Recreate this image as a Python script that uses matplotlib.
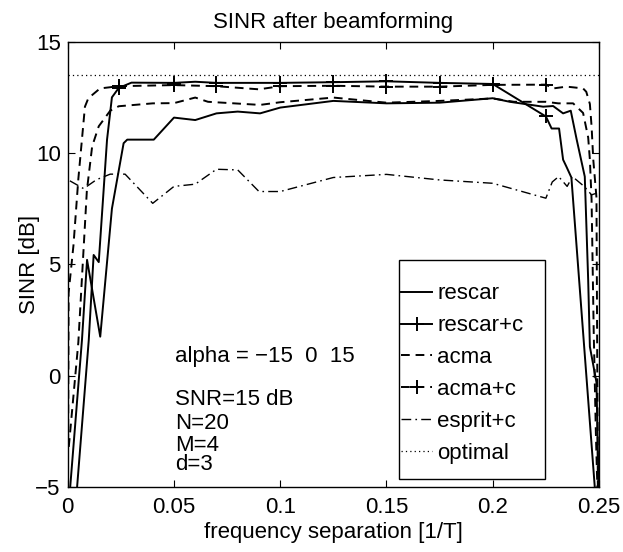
import numpy as np
import matplotlib
matplotlib.use("Agg")
import matplotlib.pyplot as plt
from matplotlib.legend_handler import HandlerLine2D
from matplotlib.patches import Rectangle

plt.rcParams['font.family'] = ['Liberation Sans', 'DejaVu Sans']

# ---------------- data ----------------
opt_x = [0.0, 0.25]
opt_y = [13.5, 13.5]

rescar_x = [0.0005, 0.0067, 0.0091, 0.0153, 0.0208, 0.0263, 0.028, 0.0405, 0.05, 0.06, 0.07, 0.08,
            0.0905, 0.1, 0.125, 0.15, 0.175, 0.2, 0.208, 0.2237, 0.2284, 0.2331, 0.2367, 0.2395,
            0.2433, 0.2449, 0.2457, 0.2488, 0.2500]
rescar_y = [-5.8, 1.6, 5.2, 1.75, 7.5, 10.44, 10.6, 10.6, 11.59, 11.48, 11.78, 11.86,
            11.78, 12.04, 12.34, 12.23, 12.26, 12.46, 12.3, 12.08, 12.11, 11.78, 11.9, 10.6,
            8.94, 4.3, 1.3, -0.3, -6.0]

rescarc_x = [0.0025, 0.0099, 0.0122, 0.0146, 0.0169, 0.0185, 0.0208, 0.024, 0.030, 0.05, 0.06,
             0.07, 0.1, 0.125, 0.15, 0.175, 0.2, 0.225, 0.2277, 0.2312, 0.2331, 0.2346, 0.237,
             0.248, 0.2495]
rescarc_y = [-7.3, 1.6, 5.42, 5.1, 8.34, 10.6, 12.5, 12.92, 13.16, 13.15, 13.2,
             13.15, 13.15, 13.18, 13.22, 13.15, 13.1, 11.64, 11.1, 11.1, 9.7, 9.4, 8.9,
             -5.0, -7.0]

acma_x = [0.0005, 0.005, 0.009, 0.0115, 0.0146, 0.02, 0.024, 0.04, 0.05, 0.06, 0.066, 0.0905,
          0.1, 0.125, 0.15, 0.175, 0.2, 0.21, 0.225, 0.2308, 0.2378, 0.2425, 0.2449, 0.2457,
          0.2465, 0.2475, 0.2485, 0.2495]
acma_y = [-3.2, 1.5, 8.3, 10.3, 11.2, 11.9, 12.1, 12.23, 12.24, 12.49, 12.3, 12.16,
          12.28, 12.49, 12.26, 12.34, 12.45, 12.3, 12.3, 12.23, 12.23, 11.8, 10.7, 9.7,
          7.9, 2.0, -2.5, -6.0]

acmac_x = [0.0002, 0.0004, 0.0027, 0.005, 0.0081, 0.0097, 0.0152, 0.024, 0.05, 0.07, 0.09, 0.1,
           0.125, 0.15, 0.175, 0.2, 0.225, 0.2284, 0.2347, 0.2378, 0.2425, 0.244, 0.2457,
           0.2465, 0.2473, 0.2488, 0.2495]
acmac_y = [-3.0, 3.7, 5.85, 8.84, 12.08, 12.46, 12.9, 13.0, 13.05, 13.0, 12.86, 13.0,
           13.02, 12.98, 12.98, 13.06, 13.07, 12.9, 12.98, 12.95, 12.9, 12.75, 12.2,
           11.2, 9.7, 8.0, -6.0]

esprit_x = [0.001, 0.0075, 0.0135, 0.02, 0.027, 0.04, 0.05, 0.06, 0.07, 0.08, 0.09, 0.1,
            0.125, 0.15, 0.175, 0.2, 0.225, 0.228, 0.231, 0.235, 0.2375, 0.243, 0.2465, 0.249]
esprit_y = [8.75, 8.4, 8.8, 9.05, 9.05, 7.74, 8.5, 8.6, 9.27, 9.24, 8.27, 8.27,
            8.9, 9.04, 8.79, 8.64, 7.97, 8.7, 8.94, 8.5, 8.94, 8.5, 8.12, 8.2]

marker_freqs = [0.024, 0.05, 0.07, 0.1, 0.125, 0.15, 0.175, 0.2, 0.225]

labels = ['rescar', 'rescar+c', 'acma', 'acma+c', 'esprit+c', 'optimal']
xticks = [0, 0.05, 0.1, 0.15, 0.2, 0.25]
xticklabels = ['0', '0.05', '0.1', '0.15', '0.2', '0.25']
yticks = [-5, 0, 5, 10, 15]
yticklabels = ['\u22125', '0', '5', '10', '15']
notes = ['alpha = \u221215  0  15', 'SNR=15 dB', 'N=20', 'M=4', 'd=3']
note_y = [0.85, -1.05, -2.15, -3.12, -4.0]


def mark_idx(xs, fs):
    return [int(np.argmin(np.abs(np.asarray(xs) - f))) for f in fs]


class LeftMarkerHandler(HandlerLine2D):
    def get_xdata(self, legend, xdescent, ydescent, width, height, fontsize):
        xdata = [-xdescent, -xdescent + width]
        xdata_marker = [-xdescent + 0.12 * width]
        return xdata, xdata_marker


# ---------------- figure ----------------
fig = plt.figure(figsize=(6.23, 5.52), dpi=100)
ax = fig.add_axes([0.1087, 0.1178, 0.8528, 0.8067])

lw = 1.4
fs = 16
l1, = ax.plot(rescar_x, rescar_y, color='k', lw=lw, ls='-')
l2, = ax.plot(rescarc_x, rescarc_y, color='k', lw=lw, ls='-', marker='+', ms=10, mew=1.4,
              markevery=mark_idx(rescarc_x, marker_freqs))
l3, = ax.plot(acma_x, acma_y, color='k', lw=lw, dashes=(4.5, 3.0))
l4, = ax.plot(acmac_x, acmac_y, color='k', lw=lw, dashes=(4.5, 3.0), marker='+', ms=10, mew=1.4,
              markevery=mark_idx(acmac_x, marker_freqs))
l5, = ax.plot(esprit_x, esprit_y, color='k', lw=1.0, dashes=(7, 3, 1.2, 3))
l6, = ax.plot(opt_x, opt_y, color='k', lw=0.9, dashes=(1, 2.5))

ax.set_xlim(0, 0.25)
ax.set_ylim(-5, 15)
ax.set_xticks(xticks)
ax.set_xticklabels(xticklabels)
ax.set_yticks(yticks)
ax.set_yticklabels(yticklabels)
ax.tick_params(direction='in', top=True, right=True, length=5, width=0.8, labelsize=fs)
ax.tick_params(axis='x', pad=7)
ax.tick_params(axis='y', pad=5)
for s in ax.spines.values():
    s.set_linewidth(1.0)

ax.set_title('SINR after beamforming', fontsize=fs, pad=10)
ax.set_xlabel('frequency separation [1/T]', fontsize=fs, labelpad=3)
ax.set_ylabel('SINR [dB]', fontsize=fs)
ax.yaxis.set_label_coords(-0.052, 0.5)

for t, yv in zip(notes, note_y):
    ax.text(0.0505, yv, t, fontsize=fs, ha='left', va='center')

# legend box (drawn as a plain rectangle) and entries
ax.add_patch(Rectangle((0.6236, 0.018), 0.8984 - 0.6236, 0.5098 - 0.018, transform=ax.transAxes,
                       facecolor='white', edgecolor='k', lw=1.0, zorder=5))
hm = {l2: LeftMarkerHandler(), l4: LeftMarkerHandler()}
leg = ax.legend([l1, l2, l3, l4, l5, l6], labels, loc='upper left',
                bbox_to_anchor=(0.628, 0.457), fontsize=fs, frameon=False,
                handlelength=1.4, handletextpad=0.22, labelspacing=0.49,
                borderpad=0, borderaxespad=0, handler_map=hm)
leg.set_zorder(6)

fig.savefig('out.png', dpi=100)
